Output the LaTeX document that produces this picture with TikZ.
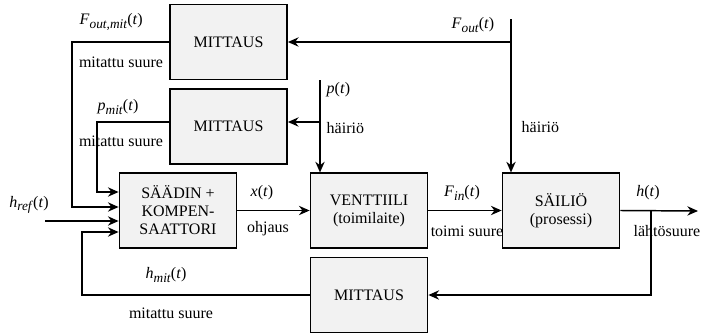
\documentclass[tikz,border=0pt]{standalone}
\usepackage{fontspec}
\setmainfont{Liberation Serif}
\usetikzlibrary{arrows.meta,calc}

\newcommand{\sig}[2]{\textit{#1}\raisebox{-0.45ex}{\fontsize{10}{10}\selectfont\textit{#2}}(\textit{t})}

\begin{document}
\begin{tikzpicture}[x=0.75pt,y=-0.75pt,
  font=\fontsize{12}{13.5}\selectfont,
  line width=1.1pt,
  >={Stealth[length=8pt,width=7pt]},
  block/.style={draw, fill=gray!10, align=center, inner sep=0pt,
    minimum width=88pt, minimum height=56pt},
  lbl/.style={inner sep=0pt}]

  \useasboundingbox (0,0) rectangle (702,332);
  \clip (0,0) rectangle (702,332);

  % blocks
  \node[block] (m1) at (228.5,42) {MITTAUS};
  \node[block] (m2) at (228.5,126.5) {MITTAUS};
  \node[block] (ctrl) at (178,210.5) {SÄÄDIN +\\KOMPEN-\\SAATTORI};
  \node[block] (valve) at (369,210.5) {VENTTIILI\\(toimilaite)};
  \node[block] (tank) at (561,210.5) {SÄILIÖ\\(prosessi)};
  \node[block] (m3) at (369,295) {MITTAUS};

  % free ends
  \coordinate (fout) at (511,19);
  \coordinate (p) at (320,80);
  \coordinate (ref) at (45,221);
  \coordinate (out) at (698,211);
  \coordinate (hb) at (651,211);
  \coordinate (in1) at ($(ctrl.west)+(0,-18.5)$);
  \coordinate (in2) at ($(ctrl.west)+(0,-3.5)$);
  \coordinate (in3) at ($(ctrl.west)+(0,10.5)$);
  \coordinate (in4) at ($(ctrl.west)+(0,21.5)$);

  % disturbances
  \draw[->] (fout) -- (fout |- tank.north);
  \draw[->] (fout |- m1.east) -- (m1.east);
  \draw[->] (p) -- (p |- valve.north);
  \draw[->] (p |- 0,122) -- (m2.east |- 0,122);

  % feedback
  \draw[->] (m1.west) -| (72,150) |- (in2);
  \draw[->] (m2.west |- 0,122) -| (97,170) |- (in1);
  \draw[->] (ref) -- (in3);
  \draw[->] (m3.west) -| (82,260) |- (in4);

  % forward path
  \draw[->] (ctrl.east) -- (valve.west);
  \draw[->] (valve.east) -- (tank.west);
  \draw[->] (tank.east) -- (out);
  \draw[->] (hb) |- (m3.east);

  % labels
  \node[lbl, anchor=west] (lfm) at (79,22) {\sig{F}{out,mit}};
  \node[lbl] (lm1) at (121,62) {mitattu suure};
  \node[lbl] (lpm) at (118,107) {\sig{p}{mit}};
  \node[lbl] (lm2) at (121,141) {mitattu suure};
  \node[lbl, anchor=west] (lp) at (326,90) {\textit{p}(\textit{t})};
  \node[lbl, anchor=west] (lh1) at (326,128) {häiriö};
  \node[lbl] (lfo) at (473,25) {\sig{F}{out}};
  \node[lbl, anchor=west] (lh2) at (521,127) {häiriö};
  \node[lbl] (lref) at (29,205) {\sig{h}{ref}};
  \node[lbl] (lx) at (262,193) {\textit{x}(\textit{t})};
  \node[lbl] (loh) at (268,229) {ohjaus};
  \node[lbl] (lhm) at (166,275) {\sig{h}{mit}};
  \node[lbl] (lm3) at (171,313) {mitattu suure};
  \node[lbl] (lfi) at (462,193) {\sig{F}{in}};
  \node[lbl] (lts) at (467,231) {toimi suure};
  \node[lbl] (lh) at (648,193) {\textit{h}(\textit{t})};
  \node[lbl] (llo) at (667,231) {lähtösuure};

\end{tikzpicture}
\end{document}
